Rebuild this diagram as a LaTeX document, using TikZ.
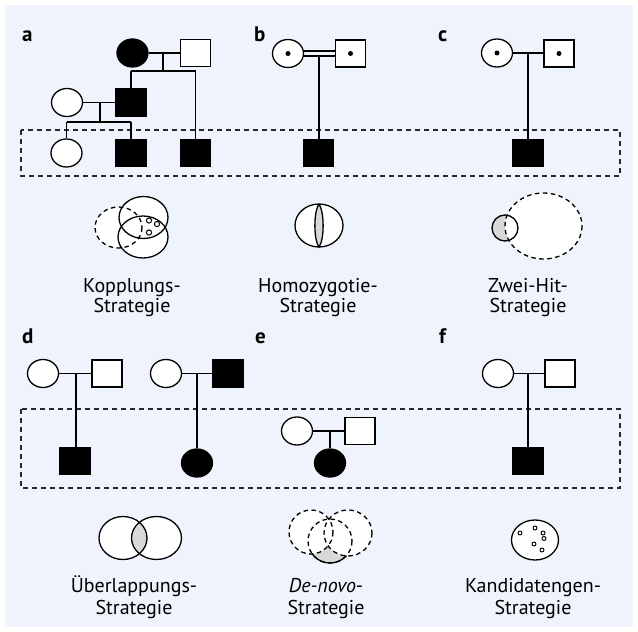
\documentclass[tikz,border=0pt]{standalone}
\usepackage{fontspec}
\setmainfont{PT Sans}
\usetikzlibrary{shapes.geometric,calc}
\definecolor{bgblue}{RGB}{239,243,252}
\definecolor{lgray}{RGB}{216,216,216}
\definecolor{dashgray}{RGB}{40,40,40}
\begin{document}
\begin{tikzpicture}[x=1pt,y=-1pt,
  fem/.style={ellipse, draw, line width=1.3pt, minimum width=31pt, minimum height=28pt, inner sep=0pt, fill=white},
  mal/.style={rectangle, draw, line width=1.3pt, minimum width=30pt, minimum height=27pt, inner sep=0pt, fill=white},
  aff/.style={fill=black},
  ped/.style={line width=1.3pt},
  dashbox/.style={draw=dashgray, line width=1.3pt, dash pattern=on 5pt off 4pt},
  venn/.style={line width=1.3pt},
  vdash/.style={line width=1.3pt, dash pattern=on 4.5pt off 3.5pt},
  lbl/.style={font=\fontsize{20}{20}\selectfont, anchor=base, inner sep=0pt},
  panel/.style={font=\fontsize{21}{21}\selectfont\bfseries, anchor=base west, inner sep=0pt}]
\useasboundingbox (0,0) rectangle (638,632);
\fill[bgblue] (5,5) rectangle (633,627);

% dashed frames
\draw[dashbox] (21,130) rectangle (620,176);
\draw[dashbox] (21,409) rectangle (620,488);

% panel letters
\node[panel] (la) at (22,41) {a};
\node[panel] (lb) at (254,41) {b};
\node[panel] (lc) at (438,41) {c};
\node[panel] (ld) at (22,343) {d};
\node[panel] (le) at (255,343) {e};
\node[panel] (lf) at (439,343) {f};

% ---------- panel a pedigree
\node[fem,aff] (a1) at (132.5,53) {};
\node[mal] (a2) at (195.5,53) {};
\node[mal,aff] (a3) at (131,102.5) {};
\node[fem] (a4) at (67,102.5) {};
\node[fem] (a5) at (66.5,153) {};
\node[mal,aff] (a6) at (131,153) {};
\node[mal,aff] (a7) at (195.5,153) {};
\coordinate (ja1) at (163,53);
\coordinate (ja2) at (163,71);
\coordinate (sa1) at (131,71);
\coordinate (sa2) at (195.5,71);
\coordinate (ja3) at (100,102.5);
\coordinate (ja4) at (100,122);
\coordinate (sa3) at (66.5,122);
\coordinate (sa4) at (131,122);
\draw[ped] (a1) -- (a2);
\draw[ped] (ja1) -- (ja2);
\draw[ped] (sa1) -- (sa2);
\draw[ped] (sa1) -- (a3.north);
\draw[ped] (sa2) -- (a7.north);
\draw[ped] (a4) -- (a3);
\draw[ped] (ja3) -- (ja4);
\draw[ped] (sa3) -- (sa4);
\draw[ped] (sa3) -- (a5.north);
\draw[ped] (sa4) -- (a6.north);

% ---------- panel b pedigree
\node[fem] (b1) at (288,53.5) {};
\node[mal] (b2) at (350.5,53.5) {};
\node[mal,aff] (b3) at (318.5,153) {};
\fill (b1.center) circle (2.5);
\fill (b2.center) circle (2.5);
\coordinate (bl1) at (302.8,51);
\coordinate (br1) at (335.5,51);
\coordinate (bl2) at (302.8,56);
\coordinate (br2) at (335.5,56);
\coordinate (jb) at (319,56);
\draw[ped] (bl1) -- (br1);
\draw[ped] (bl2) -- (br2);
\draw[ped] (jb) -- (jb |- b3.north);

% ---------- panel c pedigree
\node[fem] (c1) at (497,53) {};
\node[mal] (c2) at (559,53.5) {};
\node[mal,aff] (c3) at (528,153) {};
\fill (c1.center) circle (2.5);
\fill (c2.center) circle (2.5);
\coordinate (jc) at (528,53);
\draw[ped] (c1) -- (c1 -| c2.west);
\draw[ped] (jc) -- (c3.north);

% ---------- panel d pedigrees
\node[fem] (d1) at (43,373.5) {};
\node[mal] (d2) at (107,373.5) {};
\node[mal,aff] (d3) at (75,461) {};
\coordinate (jd1) at (76,373.5);
\draw[ped] (d1) -- (d2);
\draw[ped] (jd1) -- (jd1 |- d3.north);
\node[fem] (d4) at (166,373.5) {};
\node[mal,aff] (d5) at (228,373.5) {};
\node[fem,aff] (d6) at (197,463) {};
\coordinate (jd2) at (197,373.5);
\draw[ped] (d4) -- (d5);
\draw[ped] (jd2) -- (d6.north);

% ---------- panel e pedigree
\node[fem] (e1) at (297,431) {};
\node[mal] (e2) at (360,431) {};
\node[fem,aff] (e3) at (330,463) {};
\coordinate (je) at (330,431);
\draw[ped] (e1) -- (e2);
\draw[ped] (je) -- (e3.north);

% ---------- panel f pedigree
\node[fem] (f1) at (498,373.5) {};
\node[mal] (f2) at (560,373.5) {};
\node[mal,aff] (f3) at (528,461) {};
\coordinate (jf) at (528,373.5);
\draw[ped] (f1) -- (f2);
\draw[ped] (jf) -- (f3.north);

% ---------- Venn a (Kopplung)
\fill[white] (118.5,227.5) ellipse [x radius=23.5, y radius=20.5];
\fill[white] (143.5,217.5) ellipse [x radius=24.5, y radius=21];
\fill[white] (143,237) ellipse [x radius=25, y radius=21];
\draw[vdash] (118.5,227.5) ellipse [x radius=23.5, y radius=20.5];
\draw[venn] (143.5,217.5) ellipse [x radius=24.5, y radius=21];
\draw[venn] (143,237) ellipse [x radius=25, y radius=21];
\draw[line width=1pt] (149,220.5) circle (2.6);
\draw[line width=1pt] (157,224) circle (2.6);
\draw[line width=1pt] (149,232.5) circle (2.6);

% ---------- Venn b (Homozygotie)
\draw[venn, fill=white] (319,225.5) ellipse [x radius=24, y radius=21.5];
\draw[venn, fill=lgray] (319,204) .. controls (324.5,212) and (324.5,239.5) .. (319,247)
  .. controls (313.5,239.5) and (313.5,212) .. (319,204);

% ---------- Venn c (Zwei-Hit)
\fill[lgray] (505,228) circle (13);
\fill[white] (543.5,226) ellipse [x radius=38.5, y radius=33];
\draw[venn] (505,228) circle (13);
\draw[vdash] (543.5,226) ellipse [x radius=38.5, y radius=33];

% ---------- Venn d (Ueberlappung)
\fill[white] (123,538) ellipse [x radius=24, y radius=21.5];
\fill[white] (156.5,538) ellipse [x radius=25, y radius=21.5];
\begin{scope}
  \clip (123,538) ellipse [x radius=24, y radius=21.5];
  \fill[lgray] (156.5,538) ellipse [x radius=25, y radius=21.5];
\end{scope}
\draw[venn] (123,538) ellipse [x radius=24, y radius=21.5];
\draw[venn] (156.5,538) ellipse [x radius=25, y radius=21.5];

% ---------- Venn e (De novo)
\fill[white] (311,532) circle (22);
\fill[white] (330,541) circle (22);
\fill[white] (348,533) ellipse [x radius=24, y radius=23];
\begin{scope}
  \clip (330,541) circle (22);
  \fill[lgray] (330,541) circle (22);
  \fill[white] (311,532) circle (22);
  \fill[white] (348,533) ellipse [x radius=24, y radius=23];
\end{scope}
\begin{scope}[even odd rule]
  \clip (200,450) rectangle (450,600) (311,532) circle (22);
  \begin{scope}[even odd rule]
    \clip (200,450) rectangle (450,600) (348,533) ellipse [x radius=24, y radius=23];
    \draw[venn] (330,541) circle (22);
  \end{scope}
\end{scope}
\draw[vdash] (311,532) circle (22);
\draw[vdash] (330,541) circle (22);
\draw[vdash] (348,533) ellipse [x radius=24, y radius=23];

% ---------- Venn f (Kandidatengen)
\draw[venn, fill=white] (535,540) ellipse [x radius=23.5, y radius=20];
\foreach \px/\py in {520/533, 535/528, 543/533, 544/538.5, 534/544, 542/550}
  \draw[line width=0.9pt] (\px,\py) circle (2);

% ---------- captions
\node[lbl] (ta1) at (132,292.5) {Kopplungs-};
\node[lbl] (ta2) at (132,312) {Strategie};
\node[lbl] (tb1) at (318,292.5) {Homozygotie-};
\node[lbl] (tb2) at (318,312) {Strategie};
\node[lbl] (tc1) at (528,292.5) {Zwei-Hit-};
\node[lbl] (tc2) at (528,312) {Strategie};
\node[lbl] (td1) at (134,592) {Überlappungs-};
\node[lbl] (td2) at (134,614) {Strategie};
\node[lbl] (te1) at (326,592) {\textit{De-novo}-};
\node[lbl] (te2) at (326,614) {Strategie};
\node[lbl] (tf1) at (533,592) {Kandidatengen-};
\node[lbl] (tf2) at (533,614) {Strategie};
\end{tikzpicture}
\end{document}
